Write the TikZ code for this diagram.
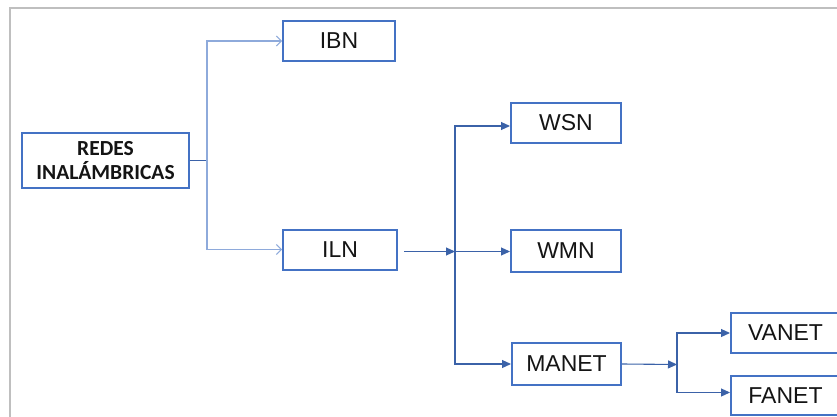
\documentclass[tikz,border=0pt]{standalone}
\usepackage{fontspec}
\setmainfont{Liberation Sans}
\newfontfamily\headfont{Carlito}
\usetikzlibrary{arrows.meta}

\definecolor{boxblue}{HTML}{4472C4}
\definecolor{linkdark}{HTML}{3B62A8}
\definecolor{linklight}{HTML}{8EAADB}
\definecolor{framegray}{HTML}{BFBFBF}

\tikzset{
  netbox/.style={draw=boxblue, line width=2pt, rectangle, inner sep=0pt,
    font=\fontsize{23}{26}\selectfont, text=black!92},
  headbox/.style={netbox, align=center,
    font=\headfont\bfseries\fontsize{21.5}{23.5}\selectfont},
  linkdark/.style={draw=linkdark, line width=1.1pt},
  linklight/.style={draw=linklight, line width=1.3pt},
  openhead/.style={-{Straight Barb[length=5pt,width=10pt,line width=1pt]}},
  filledhead/.style={-{Triangle[length=9pt,width=8pt]}},
}

\begin{document}
\begin{tikzpicture}[x=1pt,y=-1pt]
  \useasboundingbox (0,0) rectangle (837,417);
  \clip (0,0) rectangle (837,417);

  % outer frame (top and left sides visible)
  \draw[framegray, line width=1.6pt] (10,418) -- (10,8) -- (840,8);

  % nodes
  \node[headbox, minimum width=167pt, minimum height=55pt] (redes) at (105.5,160.5)
    {REDES\\INALÁMBRICAS};
  \node[netbox, minimum width=112pt, minimum height=40pt] (ibn) at (339,41) {IBN};
  \node[netbox, minimum width=114pt, minimum height=40pt] (iln) at (340,249.5) {ILN};
  \node[netbox, minimum width=110pt, minimum height=40pt] (wsn) at (566,123) {WSN};
  \node[netbox, minimum width=110pt, minimum height=42pt] (wmn) at (566,251) {WMN};
  \node[netbox, minimum width=109pt, minimum height=42pt] (manet) at (566.5,364) {MANET};
  \node[netbox, minimum width=109pt, minimum height=40pt] (vanet) at (785.5,333) {VANET};
  \node[netbox, minimum width=109pt, minimum height=39pt] (fanet) at (785.5,395.5) {FANET};

  % junction points
  \coordinate (j1) at (207,160.5);
  \coordinate (j2) at (455,251.5);
  \coordinate (j3) at (677,364.5);

  % first level
  \draw[linkdark] (redes.east) -- (j1);
  \draw[linklight, openhead] (j1) |- (ibn.west);
  \draw[linklight, openhead] (j1) |- (iln.west);

  % second level
  \draw[linkdark, filledhead] ([xshift=6pt]iln.east |- j2) -- (j2);
  \draw[linkdark, filledhead] (j2) |- ([yshift=-3pt]wsn.west);
  \draw[linkdark, filledhead] (j2) -- (wmn.west |- j2);
  \draw[linkdark, filledhead] (j2) |- (manet.west);

  % third level
  \draw[linkdark, filledhead] (manet.east) -- (j3);
  \draw[linkdark, filledhead] (j3) |- (vanet.west);
  \draw[linkdark, filledhead] (j3) |- ([yshift=3pt]fanet.west);
\end{tikzpicture}
\end{document}
